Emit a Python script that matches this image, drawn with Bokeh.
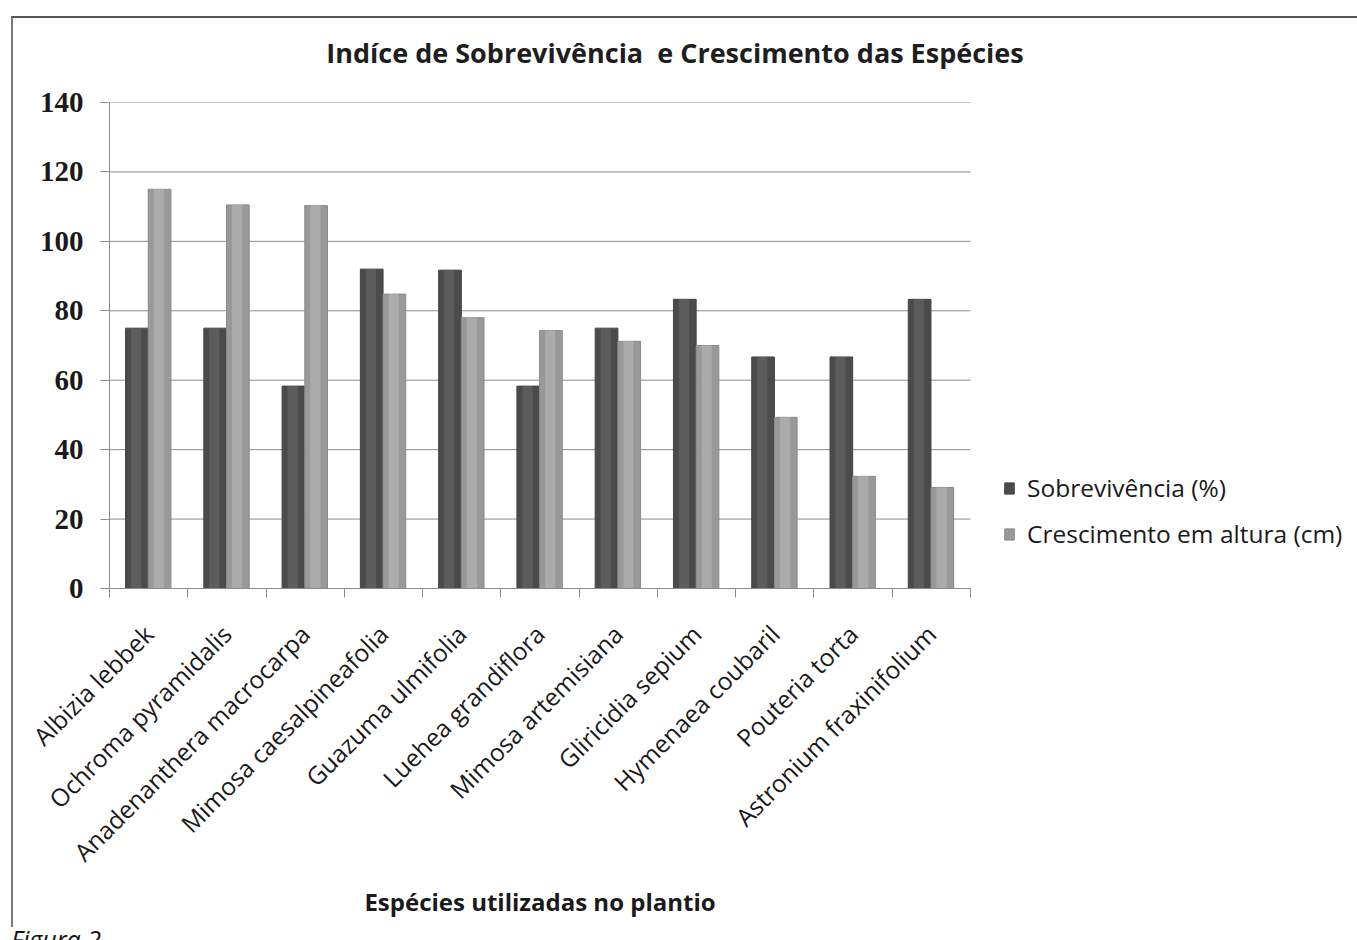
import math
from bokeh.plotting import figure
from bokeh.models import Range1d, FixedTicker, Legend, LegendItem, Div, ColumnDataSource
from bokeh.transform import dodge
from bokeh.layouts import column
from bokeh.embed import file_html
from bokeh.resources import INLINE

# ---- data ----
species = [
    "Albizia lebbek", "Ochroma pyramidalis", "Anadenanthera macrocarpa",
    "Mimosa caesalpineafolia", "Guazuma ulmifolia", "Luehea grandiflora",
    "Mimosa artemisiana", "Gliricidia sepium", "Hymenaea coubaril",
    "Pouteria torta", "Astronium fraxinifolium",
]
sobrevivencia = [75.0, 75.0, 58.3, 92.0, 91.7, 58.3, 75.0, 83.3, 66.7, 66.7, 83.3]
crescimento = [115.0, 110.5, 110.3, 84.8, 78.0, 74.3, 71.2, 70.0, 49.3, 32.3, 29.1]
y_ticks = [0, 20, 40, 60, 80, 100, 120, 140]

title_text = "Indíce de Sobrevivência  e Crescimento das Espécies"
x_title = "Espécies utilizadas no plantio"
series_names = ["Sobrevivência (%)", "Crescimento em altura (cm)"]
caption = "Figura 2"

n = len(species)
centers = [i + 0.5 for i in range(n)]
boundaries = list(range(n + 1))

src = ColumnDataSource(dict(x=centers, sob=sobrevivencia, cre=crescimento))
grid_src = ColumnDataSource(dict(y=y_ticks, x0=[0] * len(y_ticks), x1=[n] * len(y_ticks)))

GRID = "#8c8c8c"
SANS = "Open Sans"
DARK_TXT = "#1a1a1a"

# layout geometry (pixels)
FIG_W = 1346
TITLE_H, FIG_H, XT_H = 60, 812, 37
LEFT, TOP, BOTTOM = 96, 24, 302
FRAME_W = FIG_W - LEFT          # plotting frame reaches the right edge
CAT_PX = 861 / n                # on-screen width of one category
x_end = FRAME_W / CAT_PX        # extra room on the right holds the legend

title_div = Div(
    text=f'<div style="white-space:pre; text-align:center; width:1324px; '
         f'padding-top:19px; font-family:\'Open Sans\'; font-weight:bold; '
         f'font-size:27px; line-height:32px; color:#1e1e1e;">{title_text}</div>',
    width=FIG_W, height=TITLE_H)
title_div.margin = (0, 0, 0, 0)

p = figure(width=FIG_W, height=FIG_H,
           x_range=Range1d(0, x_end), y_range=Range1d(0, 140),
           output_backend="svg", toolbar_location=None,
           min_border_left=LEFT, min_border_right=0,
           min_border_top=TOP, min_border_bottom=BOTTOM)
p.margin = (0, 0, 0, 0)
p.outline_line_color = None
p.background_fill_color = "white"
p.border_fill_color = "white"

# horizontal grid lines, only across the category area
p.segment(x0="x0", x1="x1", y0="y", y1="y", source=grid_src,
          line_color=GRID, line_width=1)

# bars (base + highlight strip to mimic the cylinder shading)
W = 0.29
r1 = p.vbar(x=dodge("x", -0.15, range=p.x_range), top="sob", width=W, source=src,
            fill_color="#4b4b4b", line_color="#444444")
p.vbar(x=dodge("x", -0.16, range=p.x_range), top="sob", width=W * 0.45, source=src,
       fill_color="#5c5c5c", line_color=None)
r2 = p.vbar(x=dodge("x", 0.14, range=p.x_range), top="cre", width=W, source=src,
            fill_color="#999999", line_color="#8a8a8a")
p.vbar(x=dodge("x", 0.13, range=p.x_range), top="cre", width=W * 0.45, source=src,
       fill_color="#ababab", line_color=None)

# y axis
yax = p.yaxis[0]
yax.ticker = FixedTicker(ticks=y_ticks)
yax.major_label_text_font = "Liberation Serif"
yax.major_label_text_font_size = "29px"
yax.major_label_text_font_style = "bold"
yax.major_label_text_color = DARK_TXT
yax.major_tick_out = 9
yax.major_tick_in = 0
yax.minor_tick_out = 0
yax.minor_tick_in = 0
yax.axis_line_color = GRID
yax.major_tick_line_color = GRID
yax.major_label_standoff = 17

# x axis
xax = p.xaxis[0]
xax.bounds = (0, n)
xax.ticker = FixedTicker(ticks=centers, minor_ticks=boundaries)
xax.major_label_overrides = {c: s for c, s in zip(centers, species)}
xax.major_label_orientation = math.pi / 4
xax.major_label_text_font = SANS
xax.major_label_text_font_size = "24.5px"
xax.major_label_text_color = DARK_TXT
xax.major_tick_out = 0
xax.major_tick_in = 0
xax.minor_tick_out = 9
xax.minor_tick_in = 0
xax.minor_tick_line_color = GRID
xax.axis_line_color = GRID
xax.major_label_standoff = 32

p.xgrid.visible = False
p.ygrid.visible = False

legend = Legend(items=[LegendItem(label=series_names[0], renderers=[r1]),
                       LegendItem(label=series_names[1], renderers=[r2])],
                location=(894, 38), orientation="vertical",
                border_line_color=None, background_fill_alpha=0,
                label_text_font=SANS, label_text_font_size="24.5px",
                label_text_color=DARK_TXT,
                glyph_width=12, glyph_height=14, label_standoff=12,
                spacing=13, padding=0, margin=0, label_height=24)
p.add_layout(legend, "center")

xt_div = Div(
    text=f'<div style="text-align:center; width:1054px; font-family:\'Open Sans\'; '
         f'font-weight:bold; font-size:24px; line-height:24px; color:{DARK_TXT};">'
         f'{x_title}</div>',
    width=FIG_W, height=XT_H)
xt_div.margin = (0, 0, 0, 0)

chart = column(title_div, p, xt_div)
chart.margin = (16, 0, 0, 11)
chart.spacing = 0
chart.styles = {"border-top": "2px solid #555555", "border-left": "2px solid #777777"}

cap = Div(text=f'<div style="font-family:\'Open Sans\'; font-style:italic; '
               f'font-size:25px; line-height:1; color:#111111;">{caption}</div>',
          width=300, height=40)
cap.margin = (0, 0, 0, 11)

layout = column(chart, cap)
layout.spacing = 0
layout.margin = (0, 0, 0, 0)
open("out.html", "w").write(file_html(layout, INLINE))
